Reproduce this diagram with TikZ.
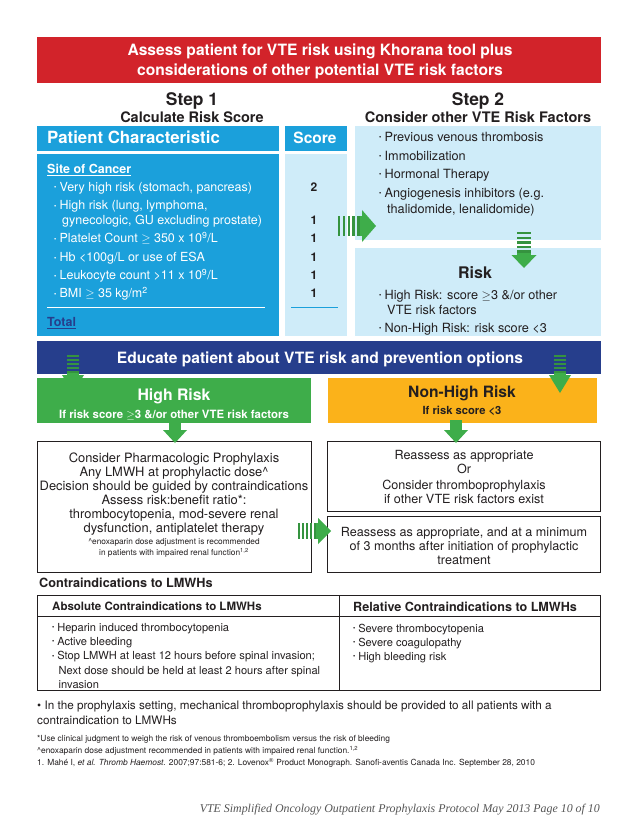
\documentclass[tikz,border=0pt]{standalone}
\usepackage{fontspec}
\setmainfont{TeX Gyre Heros}
\newfontfamily\footfont{Liberation Serif}
\definecolor{vred}{RGB}{210,35,42}
\definecolor{vblue}{RGB}{27,160,219}
\definecolor{vlight}{RGB}{207,236,249}
\definecolor{vnavy}{RGB}{38,62,140}
\definecolor{vgreen}{RGB}{62,173,74}
\definecolor{vorange}{RGB}{251,178,26}
\definecolor{vtext}{RGB}{35,31,32}
\definecolor{vgray}{RGB}{85,85,85}
\newcommand{\fs}[2]{\fontsize{#1}{#2}\selectfont}
\newcommand{\bul}{\raisebox{0.12em}{\fontsize{6.5}{6.5}\selectfont\textbullet}\hspace{0.25em}}
\newcommand{\sarrdown}[5]{% x, ytop, yhead, ytip, halfwidth head
  \foreach \k in {0,1,2,3,4}{
    \fill[vgreen!85!black] ({#1-#5*0.55},{#2+\k*(#3-#2)/5}) rectangle ({#1+#5*0.55},{#2+\k*(#3-#2)/5+(#3-#2)/10});}
  \fill[vgreen] ({#1-#5*0.55},{#3-(#3-#2)/10}) rectangle ({#1+#5*0.55},{#3+0.5});
  \fill[vgreen] ({#1-#5},#3) -- ({#1+#5},#3) -- (#1,#4) -- cycle;}
\newcommand{\sarrright}[5]{% y, xleft, xhead, xtip, halfheight head
  \foreach \k in {0,1,2,3,4}{
    \fill[vgreen!85!black] ({#2+\k*(#3-#2)/5},{#1-#5*0.6}) rectangle ({#2+\k*(#3-#2)/5+(#3-#2)/10},{#1+#5*0.6});}
  \fill[vgreen] ({#3-(#3-#2)/10},{#1-#5*0.6}) rectangle ({#3+0.5},{#1+#5*0.6});
  \fill[vgreen] (#3,{#1-#5}) -- (#3,{#1+#5}) -- (#4,#1) -- cycle;}
\begin{document}
\begin{tikzpicture}[x=1pt,y=-1pt,
  lw/.style={inner sep=0pt, anchor=base west},
  lc/.style={inner sep=0pt, anchor=base},
  wbox/.style={draw=vtext, line width=0.8pt, fill=white},
  btxt/.style={font=\fs{12.5}{13}, text=white},
  ktxt/.style={font=\fs{12.7}{13}, text=vtext},
  ttxt/.style={font=\fs{11.1}{12}, text=vtext}]
\useasboundingbox (0,0) rectangle (638,826);
\fill[white] (0,0) rectangle (638,826);

% red banner
\fill[vred] (37,37) rectangle (601,83);
\node (banner) [inner sep=0pt, text=white, font=\bfseries\fs{15.6}{20}, align=center] at (320,61) {Assess patient for VTE risk using Khorana tool plus\\considerations of other potential VTE risk factors};

% step titles
\node (s1) [lc, font=\bfseries\fs{17.4}{17}, text=vtext] at (192,106) {Step 1};
\node (s1b) [lc, font=\bfseries\fs{14.5}{15}, text=vtext] at (192,123) {Calculate Risk Score};
\node (s2) [lc, font=\bfseries\fs{17.4}{17}, text=vtext] at (478,106) {Step 2};
\node (s2b) [lc, font=\bfseries\fs{14.5}{15}, text=vtext] at (478,123) {Consider other VTE Risk Factors};

% step 1 boxes
\fill[vblue] (37,126) rectangle (279,151);
\fill[vblue] (285,126) rectangle (347,151);
\fill[vblue] (37,154) rectangle (279,336);
\fill[vlight] (285,154) rectangle (347,336);
\node (pc) [lw, font=\bfseries\fs{16.8}{17}, text=white] at (47,144) {Patient Characteristic};
\node (sc) [lc, font=\bfseries\fs{15.5}{16}, text=white] at (315,144) {Score};

\node (site) [lw, font=\bfseries\fs{12.5}{13}, text=white] at (47,173.5) {\underline{Site of Cancer}};
\node (c1) [lw, btxt] at (54,191.5) {\bul Very high risk (stomach, pancreas)};
\node (c2) [lw, btxt] at (54,209.5) {\bul High risk (lung, lymphoma,};
\node (c2b) [lw, btxt] at (62,225) {gynecologic, GU excluding prostate)};
\node (c3) [lw, btxt] at (54,242.5) {\bul Platelet Count $\geq$ 350 x 10\textsuperscript{9}/L};
\node (c4) [lw, btxt] at (54,261.5) {\bul Hb <100g/L or use of ESA};
\node (c5) [lw, btxt] at (54,279.5) {\bul Leukocyte count >11 x 10\textsuperscript{9}/L};
\node (c6) [lw, btxt] at (54,297.5) {\bul BMI $\geq$ 35 kg/m\textsuperscript{2}};
\draw[white, line width=1pt] (47,307) -- (265,307);
\node (tot) [lw, font=\bfseries\fs{12.5}{13}, text=vnavy] at (47,326.5) {\underline{Total}};

\foreach \n/\v/\yy in {n1/2/191.5, n2/1/225, n3/1/242.5, n4/1/261.5, n5/1/279.5, n6/1/297.5}{
  \node (\n) [lc, font=\bfseries\fs{12}{13}, text=vtext] at (314,\yy) {\v};}
\draw[vblue, line width=1pt] (291,307) -- (338,307);

% step 2 boxes
\fill[vlight] (355,126) rectangle (601,240);
\fill[vlight] (355,248) rectangle (601,336);
\node (f1) [lw, ktxt] at (379,141.5) {\bul Previous venous thrombosis};
\node (f2) [lw, ktxt] at (379,160.5) {\bul Immobilization};
\node (f3) [lw, ktxt] at (379,178.5) {\bul Hormonal Therapy};
\node (f4) [lw, ktxt] at (379,197.5) {\bul Angiogenesis inhibitors (e.g.};
\node (f4b) [lw, ktxt] at (387,213.5) {thalidomide, lenalidomide)};
\node (risk) [lc, font=\bfseries\fs{16}{16}, text=vtext] at (475,278) {Risk};
\node (r1) [lw, ktxt] at (379,299) {\bul High Risk: score $\geq$3 \&/or other};
\node (r1b) [lw, ktxt] at (387,314.5) {VTE risk factors};
\node (r2) [lw, ktxt] at (379,332) {\bul Non-High Risk: risk score <3};

% navy banner
\fill[vnavy] (37,341) rectangle (601,374);
\node (edu) [lc, font=\bfseries\fs{15.6}{16}, text=white] at (320,363.5) {Educate patient about VTE risk and prevention options};

% risk level boxes
\fill[vgreen] (37,378) rectangle (311,423);
\fill[vorange] (328,378) rectangle (597,423);
\node (hr) [lc, font=\bfseries\fs{15.8}{16}, text=white] at (174,400.5) {High Risk};
\node (hrs) [lc, font=\bfseries\fs{11.4}{12}, text=white] at (174,418) {If risk score $\geq$3 \&/or other VTE risk factors};
\node (nhr) [lc, font=\bfseries\fs{15.6}{16}, text=vtext] at (462,397.5) {Non-High Risk};
\node (nhrs) [lc, font=\bfseries\fs{11.2}{12}, text=vtext] at (462,414.5) {If risk score <3};

% arrows
\sarrright{226}{338}{362}{376}{16}
\sarrdown{524}{232}{255}{268}{12.5}
\sarrdown{73}{355}{375}{393}{11}
\sarrdown{560}{355}{375}{393}{11}

% white boxes
\draw[wbox] (37,441) rectangle (311,572);
\draw[wbox] (327,441) rectangle (600,511);
\draw[wbox] (327,516) rectangle (600,572);

\fill[vgreen] (169,420) rectangle (181,431);
\fill[vgreen] (163,430) -- (187,430) -- (175,443) -- cycle;
\fill[vgreen] (450,420) rectangle (462,431);
\fill[vgreen] (444,430) -- (468,430) -- (456,443) -- cycle;
\sarrright{531}{298}{318}{331}{13}

\node (p1) [lc, ktxt, font=\fs{12.9}{14}] at (174,462.5) {Consider Pharmacologic Prophylaxis};
\node (p2) [lc, ktxt, font=\fs{12.9}{14}] at (174,476.5) {Any LMWH at prophylactic dose\textasciicircum};
\node (p3) [lc, ktxt, font=\fs{12.9}{14}] at (174,490.5) {Decision should be guided by contraindications};
\node (p4) [lc, ktxt, font=\fs{12.9}{14}] at (174,504.5) {Assess risk:benefit ratio*:};
\node (p5) [lc, ktxt, font=\fs{12.9}{14}] at (174,518.5) {thrombocytopenia, mod-severe renal};
\node (p6) [lc, ktxt, font=\fs{12.9}{14}] at (174,532.5) {dysfunction, antiplatelet therapy};
\node (p7) [lc, ktxt, font=\fs{8.3}{9}] at (174,544.5) {\textasciicircum enoxaparin dose adjustment is recommended};
\node (p8) [lc, ktxt, font=\fs{8.3}{9}] at (174,555.5) {in patients with impaired renal function\textsuperscript{1,2}};

\node (q1) [lc, ktxt, font=\fs{12.6}{14}] at (464,459.5) {Reassess as appropriate};
\node (q2) [lc, ktxt, font=\fs{12.6}{14}] at (464,473) {Or};
\node (q3) [lc, ktxt, font=\fs{12.6}{14}] at (464,489.5) {Consider thromboprophylaxis};
\node (q4) [lc, ktxt, font=\fs{12.6}{14}] at (464,503.5) {if other VTE risk factors exist};
\node (q5) [lc, ktxt, font=\fs{12.6}{14}] at (464,536.5) {Reassess as appropriate, and at a minimum};
\node (q6) [lc, ktxt, font=\fs{12.6}{14}] at (464,550) {of 3 months after initiation of prophylactic};
\node (q7) [lc, ktxt, font=\fs{12.6}{14}] at (464,564.5) {treatment};

% contraindications
\node (ci) [lw, font=\bfseries\fs{12.7}{13}, text=vtext] at (39,587.5) {Contraindications to LMWHs};
\draw[vtext, line width=0.8pt] (37,595) rectangle (600,690);
\draw[vtext, line width=0.8pt] (37,616) -- (600,616);
\draw[vtext, line width=0.8pt] (339,595) -- (339,690);
\node (ah) [lw, font=\bfseries\fs{11.5}{12}, text=vtext] at (52,610.5) {Absolute Contraindications to LMWHs};
\node (rh) [lw, font=\bfseries\fs{12.6}{13}, text=vtext] at (353,611.5) {Relative Contraindications to LMWHs};
\node (a1) [lw, ttxt] at (52,631) {\bul Heparin induced thrombocytopenia};
\node (a2) [lw, ttxt] at (52,645) {\bul Active bleeding};
\node (a3) [lw, ttxt] at (52,659.5) {\bul Stop LMWH at least 12 hours before spinal invasion;};
\node (a3b) [lw, ttxt] at (58.5,674) {Next dose should be held at least 2 hours after spinal};
\node (a3c) [lw, ttxt] at (58.5,688) {invasion};
\node (b1) [lw, ttxt] at (353,632) {\bul Severe thrombocytopenia};
\node (b2) [lw, ttxt] at (353,646) {\bul Severe coagulopathy};
\node (b3) [lw, ttxt] at (353,660) {\bul High bleeding risk};

% bottom notes
\node (m1) [lw, font=\fs{11.7}{13}, text=vtext] at (37,709) {\textbullet\ In the prophylaxis setting, mechanical thromboprophylaxis should be provided to all patients with a};
\node (m2) [lw, font=\fs{11.7}{13}, text=vtext] at (37,724) {contraindication to LMWHs};
\node (fn1) [lw, font=\fs{8.4}{9}, text=vtext] at (37,741) {*Use clinical judgment to weigh the risk of venous thromboembolism versus the risk of bleeding};
\node (fn2) [lw, font=\fs{8.4}{9}, text=vtext] at (37,753) {\textasciicircum enoxaparin dose adjustment recommended in patients with impaired renal function.\textsuperscript{1,2}};
\node (fn3) [lw, font=\fs{8.4}{9}, text=vtext] at (37,765) {1. Mahé I, \textit{et al. Thromb Haemost.} 2007;97:581-6; 2. Lovenox\textsuperscript{®} Product Monograph. Sanofi-aventis Canada Inc. September 28, 2010};
\node (foot) [inner sep=0pt, anchor=base east, font=\footfont\itshape\fs{11.9}{12}, text=vgray] at (600,812) {VTE Simplified Oncology Outpatient Prophylaxis Protocol May 2013 Page 10 of 10};
\end{tikzpicture}
\end{document}
